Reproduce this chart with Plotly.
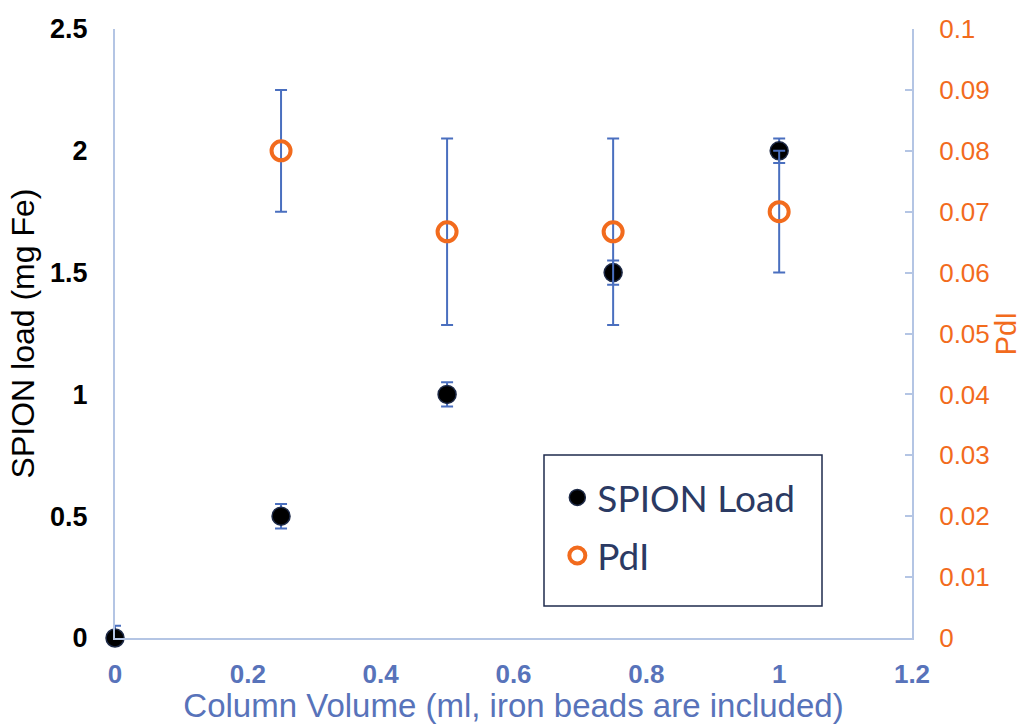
import plotly.graph_objects as go

# Data
volume = [0, 0.25, 0.5, 0.75, 1.0]
spion_load = [0, 0.5, 1.0, 1.5, 2.0]
spion_err = [0.05, 0.05, 0.05, 0.05, 0.05]

pdi_volume = [0.25, 0.5, 0.75, 1.0]
pdi = [0.08, 0.0667, 0.0667, 0.07]
pdi_err = [0.01, 0.0153, 0.0153, 0.01]

x_ticks = [0, 0.2, 0.4, 0.6, 0.8, 1, 1.2]
x_ticklabels = ["0", "0.2", "0.4", "0.6", "0.8", "1", "1.2"]
y_ticks = [0, 0.5, 1, 1.5, 2, 2.5]
y_ticklabels = ["0", "0.5", "1", "1.5", "2", "2.5"]
y2_ticks = [0, 0.01, 0.02, 0.03, 0.04, 0.05, 0.06, 0.07, 0.08, 0.09, 0.1]
y2_ticklabels = ["0", "0.01", "0.02", "0.03", "0.04", "0.05", "0.06", "0.07", "0.08", "0.09", "0.1"]

AXIS_LINE = "#B4C5E4"
ERR = "#4A6FBF"
ORANGE = "#F26B1D"
XBLUE = "#5873BA"
NAVY = "#1F2B4D"
FONT = "Liberation Sans, Arial, sans-serif"

fig = go.Figure()

fig.add_trace(go.Scatter(
    x=volume, y=spion_load, mode="markers", name="SPION Load", legendgroup="a",
    marker=dict(color="black", size=18, line=dict(color="#1E2A47", width=1.5)),
    error_y=dict(type="data", array=spion_err, color=ERR, thickness=2, width=6),
    cliponaxis=False,
))

fig.add_trace(go.Scatter(
    x=pdi_volume, y=pdi, mode="markers", name="PdI", yaxis="y2", legendgroup="b",
    marker=dict(color=ORANGE, size=19, symbol="circle-open", line=dict(width=4)),
    error_y=dict(type="data", array=pdi_err, color=ERR, thickness=2, width=6),
    cliponaxis=False,
))

fig.update_layout(
    width=1031, height=724,
    margin=dict(l=115, r=119, t=29, b=86),
    paper_bgcolor="white", plot_bgcolor="white",
    font=dict(family=FONT),
    showlegend=True,
    legend=dict(
        x=0.555, y=0.281, xanchor="left", yanchor="top",
        borderwidth=0, bgcolor="rgba(0,0,0,0)",
        font=dict(family="Lato, sans-serif", size=37, color="#2B3A63"),
        tracegroupgap=7,
    ),
    shapes=[dict(type="rect", xref="paper", yref="paper",
                 x0=(544 - 115) / 797, x1=(822 - 115) / 797,
                 y0=(638 - 606) / 609, y1=(638 - 455) / 609,
                 line=dict(color=NAVY, width=1.5), fillcolor="rgba(0,0,0,0)", layer="below")],
    xaxis=dict(
        range=[0, 1.2], tickvals=x_ticks, ticktext=x_ticklabels, automargin=False,
        showgrid=False, zeroline=False, showline=True, linecolor=AXIS_LINE, linewidth=2,
        ticks="", ticklabelstandoff=12,
        tickfont=dict(family=FONT, size=26, color=XBLUE, weight="bold"),
        title=dict(text="Column Volume (ml, iron beads are included)", standoff=2,
                   font=dict(family=FONT, size=33, color=XBLUE)),
    ),
    yaxis=dict(
        range=[0, 2.5], tickvals=y_ticks, ticktext=y_ticklabels, automargin=False,
        showgrid=False, zeroline=False, showline=True, linecolor=AXIS_LINE, linewidth=2,
        ticks="", ticklabelstandoff=20,
        tickfont=dict(family=FONT, size=27, color="black", weight="bold"),
        title=dict(text="SPION load (mg Fe)", standoff=6,
                   font=dict(family=FONT, size=32, color="black")),
    ),
    yaxis2=dict(
        range=[0, 0.1], tickvals=y2_ticks, ticktext=y2_ticklabels, automargin=False,
        overlaying="y", side="right",
        showgrid=False, zeroline=False, showline=True, linecolor=AXIS_LINE, linewidth=2,
        ticks="inside", ticklen=7, tickcolor=AXIS_LINE, tickwidth=2, ticklabelstandoff=20,
        tickfont=dict(family=FONT, size=26, color=ORANGE),
        title=dict(text="PdI", standoff=4,
                   font=dict(family=FONT, size=29, color=ORANGE)),
    ),
)

fig.write_html("out.html")
